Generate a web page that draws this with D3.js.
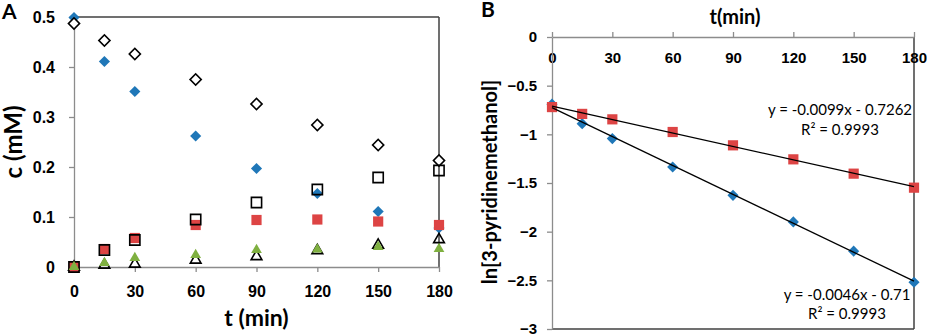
<!DOCTYPE html>
<html>
<head>
<meta charset="utf-8">
<script src="https://cdn.jsdelivr.net/npm/d3@7"></script>
<style>
  body { margin: 0; background: #fff; }
  svg { font-family: Lato, "Open Sans", sans-serif; }
</style>
</head>
<body>
<div class="container"></div>
<script>
const w = 927, h = 334;

// time points (min)
const times = [0, 15, 30, 60, 90, 120, 150, 180];

// panel A, c (mM)
const blueDiamond = [0.499, 0.411, 0.351, 0.262, 0.197, 0.147, 0.111, 0.078];
const openDiamond = [0.487, 0.453, 0.426, 0.375, 0.326, 0.284, 0.244, 0.213];
const redSquare = [0.0, 0.036, 0.058, 0.084, 0.094, 0.095, 0.091, 0.084];
const openSquare = [0.0, 0.034, 0.054, 0.095, 0.129, 0.155, 0.179, 0.193];
const greenTri = [0.0, 0.008, 0.018, 0.024, 0.034, 0.035, 0.040, 0.036];
const openTri = [0.0, 0.004, 0.006, 0.014, 0.021, 0.033, 0.044, 0.055];

const ticksA_x = [0, 30, 60, 90, 120, 150, 180];
const ticksA_y = [0, 0.1, 0.2, 0.3, 0.4, 0.5];

// panel B, ln[3-pyridinemethanol]
const lnBlue = [-0.69, -0.89, -1.044, -1.336, -1.627, -1.90, -2.20, -2.52];
const lnRed = [-0.72, -0.79, -0.846, -0.976, -1.113, -1.257, -1.404, -1.548];
const fitBlue = [-0.0099, -0.7262];
const fitRed = [-0.0046, -0.71];
const eqLabels = ["y = -0.0099x - 0.7262", "y = -0.0046x - 0.71"];
const r2Label = "R² = 0.9993";

const ticksB_x = [0, 30, 60, 90, 120, 150, 180];
const ticksB_y = [0, -0.5, -1, -1.5, -2, -2.5, -3];

const blue = "#1f77b8", red = "#dd4444", green = "#7fb040";

const svg = d3.select(".container").append("svg")
  .attr("width", w).attr("height", h)
  .attr("viewBox", [0, 0, w, h]);

const diamond = d3.symbol().type(d3.symbolSquare).size(62)();
const square = d3.symbol().type(d3.symbolSquare).size(104)();
const tri = d3.symbol().type(d3.symbolTriangle).size(50)();

function styleAxis(g, fs) {
  g.select(".domain").attr("stroke", "#8c8c8c").attr("stroke-width", 1.3);
  g.selectAll(".tick line").attr("stroke", "#8c8c8c").attr("stroke-width", 1.3);
  g.selectAll(".tick text").attr("fill", "#000").attr("font-size", fs).attr("font-weight", "bold");
}

// ---------- Panel A ----------
const xA = d3.scaleLinear().domain([0, 180]).range([74, 439]);
const yA = d3.scaleLinear().domain([0, 0.5]).range([267, 17]);

// frame top/right
svg.append("line").attr("x1", xA(0)).attr("x2", xA(180)).attr("y1", yA(0.5)).attr("y2", yA(0.5))
  .attr("stroke", "#404040").attr("stroke-width", 1.5);
svg.append("line").attr("x1", xA(180)).attr("x2", xA(180)).attr("y1", yA(0.5)).attr("y2", yA(0))
  .attr("stroke", "#404040").attr("stroke-width", 1.5);

svg.append("g").attr("transform", `translate(0,${yA(0)})`)
  .call(d3.axisBottom(xA).tickValues(ticksA_x).tickSize(5).tickSizeOuter(0).tickPadding(14))
  .call(g => styleAxis(g, 16));

svg.append("g").attr("transform", `translate(${xA(0)},0)`)
  .call(d3.axisLeft(yA).tickValues(ticksA_y).tickSize(5).tickSizeOuter(0).tickPadding(14)
    .tickFormat(d => d === 0 ? "0" : d3.format(".1f")(d)))
  .call(g => styleAxis(g, 16));

function markers(vals, xs, ys, shape, fill, stroke, rot) {
  svg.append("g").selectAll("path")
    .data(vals)
    .join("path")
    .attr("d", shape)
    .attr("transform", (d, i) => `translate(${xs(times[i])},${ys(d)}) rotate(${rot})`)
    .attr("fill", fill)
    .attr("stroke", stroke)
    .attr("stroke-width", stroke === "none" ? 0 : 1.6);
}

markers(blueDiamond, xA, yA, diamond, blue, "none", 45);
markers(openDiamond, xA, yA, diamond, "#fff", "#000", 45);
markers(openTri, xA, yA, tri, "none", "#000", 0);
markers(redSquare, xA, yA, square, red, "none", 0);
markers(openSquare, xA, yA, square, "none", "#000", 0);
markers(greenTri, xA, yA, tri, green, "none", 0);

svg.append("text").attr("x", 2).attr("y", 19).text("A")
  .attr("font-size", 21).attr("font-weight", "bold");
svg.append("text").attr("x", xA(90)).attr("y", 326).attr("text-anchor", "middle")
  .text("t (min)").attr("font-size", 23).attr("font-weight", "bold");
svg.append("text").attr("transform", `translate(22,142) rotate(-90)`).attr("text-anchor", "middle")
  .text("c (mM)").attr("font-size", 24).attr("font-weight", "bold");

// ---------- Panel B ----------
const xB = d3.scaleLinear().domain([0, 180]).range([552, 914]);
const yB = d3.scaleLinear().domain([-3, 0]).range([329, 37]);

svg.append("line").attr("x1", xB(180)).attr("x2", xB(180)).attr("y1", yB(0)).attr("y2", yB(-3))
  .attr("stroke", "#404040").attr("stroke-width", 1.5);
svg.append("line").attr("x1", xB(0)).attr("x2", xB(180)).attr("y1", yB(-3)).attr("y2", yB(-3))
  .attr("stroke", "#404040").attr("stroke-width", 1.5);

svg.append("g").attr("transform", `translate(0,${yB(0)})`)
  .call(d3.axisTop(xB).tickValues(ticksB_x).tickSize(5).tickSizeOuter(0))
  .call(g => styleAxis(g, 15))
  .call(g => g.selectAll(".tick text").attr("y", 15).attr("dy", "0.71em"));

svg.append("g").attr("transform", `translate(${xB(0)},0)`)
  .call(d3.axisLeft(yB).tickValues(ticksB_y).tickSize(5).tickSizeOuter(0).tickPadding(10)
    .tickFormat(d => d3.format("")(d)))
  .call(g => styleAxis(g, 15));

const fitLine = f => d3.line()
  .x(d => xB(d))
  .y(d => yB(f[0] * d + f[1]));

markers(lnBlue, xB, yB, diamond, blue, "none", 45);
markers(lnRed, xB, yB, square, red, "none", 0);

svg.append("path").datum([0, 180]).attr("d", fitLine(fitBlue))
  .attr("fill", "none").attr("stroke", "#000").attr("stroke-width", 1.3);
svg.append("path").datum([0, 180]).attr("d", fitLine(fitRed))
  .attr("fill", "none").attr("stroke", "#000").attr("stroke-width", 1.3);

svg.append("text").attr("x", 840).attr("y", 115).attr("text-anchor", "middle")
  .text(eqLabels[0]).attr("font-size", 15);
svg.append("text").attr("x", 840).attr("y", 135).attr("text-anchor", "middle")
  .text(r2Label).attr("font-size", 15);
svg.append("text").attr("x", 847).attr("y", 300).attr("text-anchor", "middle")
  .text(eqLabels[1]).attr("font-size", 15);
svg.append("text").attr("x", 847).attr("y", 319).attr("text-anchor", "middle")
  .text(r2Label).attr("font-size", 15);

svg.append("text").attr("x", 481).attr("y", 17).text("B")
  .attr("font-size", 21).attr("font-weight", "bold");
svg.append("text").attr("x", 735).attr("y", 24).attr("text-anchor", "middle")
  .text("t(min)").attr("font-size", 20).attr("font-weight", "bold");
svg.append("text").attr("transform", `translate(497,182) rotate(-90)`).attr("text-anchor", "middle")
  .text("ln[3-pyridinemethanol]").attr("font-size", 20).attr("font-weight", "bold");
</script>
</body>
</html>
